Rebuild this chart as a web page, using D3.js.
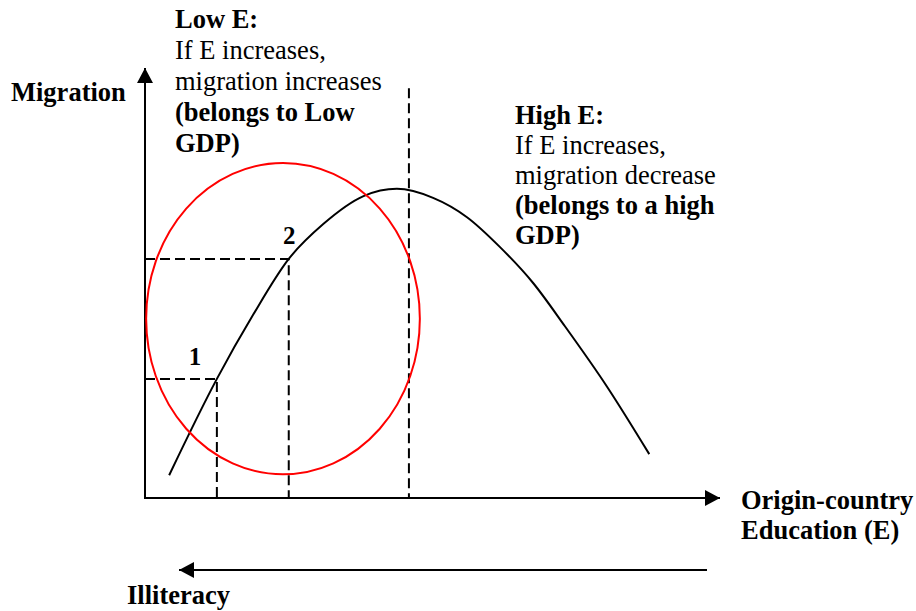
<!DOCTYPE html>
<html>
<head>
<meta charset="utf-8">
<script src="https://cdn.jsdelivr.net/npm/d3@7"></script>
<style>
  body { margin: 0; background: #fff; }
  text { font-family: "Liberation Serif", "Times New Roman", Times, serif; fill: #000; }
  .bold { font-weight: bold; }
</style>
</head>
<body>
<div id="chart"></div>
<script>
// curve: migration as a function of origin-country education (0-100 units)
const curveE = [4.2, 12.5, 18.8, 25.0, 31.0, 38.0, 43.8, 50.1, 56.0, 61.7, 67.5, 73.0, 80.3, 87.7];
const curveM = [5.3, 27.7, 42.6, 55.6, 63.7, 70.2, 71.9, 69.8, 65.3, 58.4, 50.0, 40.0, 26.0, 10.2];

// marked points 1 and 2 on the curve, and where their numbers sit
const pointLabels = ['1', '2'];
const pointE = [12.5, 25.0];
const pointM = [27.7, 55.6];
const numE = [7.6, 24.0];
const numM = [30.9, 59.1];

// turning point line and the red "low E" ellipse
const peakE = 45.9, peakTop = 95.3;
const ellipseE = 24.0, ellipseM = 41.7, ellipseRE = 23.8, ellipseRM = 36.2;

const lowText = [['Low E:', true], ['If E increases,', false], ['migration increases', false],
                 ['(belongs to Low', true], ['GDP)', true]];
const highText = [['High E:', true], ['If E increases,', false], ['migration decrease', false],
                  ['(belongs to a high', true], ['GDP)', true]];

const width = 916, height = 611;
const fontSize = '26.5px';
const svg = d3.select('#chart').append('svg').attr('width', width).attr('height', height);

const x = d3.scaleLinear().domain([0, 100]).range([145, 720]);
const y = d3.scaleLinear().domain([0, 100]).range([498, 68]);

const defs = svg.append('defs');
defs.append('marker')
    .attr('id', 'arrow')
    .attr('viewBox', '0 0 15 16')
    .attr('refX', 15).attr('refY', 8)
    .attr('markerWidth', 15).attr('markerHeight', 16)
    .attr('markerUnits', 'userSpaceOnUse')
    .attr('orient', 'auto')
    .append('path').attr('d', 'M0,0 L15,8 L0,16 Z').attr('fill', '#000');

// dashed guides
const dash = '10,5';
pointE.forEach(function(e, i) {
    svg.append('polyline')
        .attr('points', [[x(0), y(pointM[i])], [x(e), y(pointM[i])], [x(e), y(0)]].join(' '))
        .attr('fill', 'none').attr('stroke', '#000').attr('stroke-width', 2)
        .attr('stroke-dasharray', dash);
});
svg.append('line')
    .attr('x1', x(peakE)).attr('x2', x(peakE))
    .attr('y1', y(peakTop)).attr('y2', y(0))
    .attr('stroke', '#000').attr('stroke-width', 2).attr('stroke-dasharray', dash);

// axes
svg.append('line')
    .attr('x1', x(0)).attr('y1', y(0)).attr('x2', x(0)).attr('y2', y(100))
    .attr('stroke', '#000').attr('stroke-width', 2).attr('marker-end', 'url(#arrow)');
svg.append('line')
    .attr('x1', x(0) - 1).attr('y1', y(0)).attr('x2', x(100)).attr('y2', y(0))
    .attr('stroke', '#000').attr('stroke-width', 2).attr('marker-end', 'url(#arrow)');

// curve
const pts = curveE.map(function(e, i) { return [e, curveM[i]]; });
const line = d3.line()
    .x(function(d) { return x(d[0]); })
    .y(function(d) { return y(d[1]); })
    .curve(d3.curveMonotoneX);
svg.append('path')
    .attr('d', line(pts))
    .attr('fill', 'none').attr('stroke', '#000').attr('stroke-width', 2);

// red ellipse
svg.append('ellipse')
    .attr('cx', x(ellipseE)).attr('cy', y(ellipseM))
    .attr('rx', x(ellipseRE) - x(0)).attr('ry', y(0) - y(ellipseRM))
    .attr('fill', 'none').attr('stroke', '#f00').attr('stroke-width', 2);

// point numbers
svg.selectAll('.num')
    .data(pointLabels)
    .enter()
    .append('text')
    .attr('class', 'num bold')
    .attr('x', function(d, i) { return x(numE[i]); })
    .attr('y', function(d, i) { return y(numM[i]); })
    .style('font-size', '25px')
    .text(function(d) { return d; });

// illiteracy arrow
svg.append('line')
    .attr('x1', 707).attr('y1', 570).attr('x2', 179).attr('y2', 570)
    .attr('stroke', '#000').attr('stroke-width', 2).attr('marker-end', 'url(#arrow)');

function block(lines, x0, y0, step) {
    lines.forEach(function(l, i) {
        svg.append('text')
            .attr('class', l[1] ? 'bold' : null)
            .attr('x', x0).attr('y', y0 + i * step)
            .style('font-size', fontSize)
            .text(l[0]);
    });
}
block(lowText, 175, 28, 31);
block(highText, 515, 124, 30);

function label(t, x0, y0) {
    svg.append('text').attr('class', 'bold')
        .attr('x', x0).attr('y', y0)
        .style('font-size', fontSize)
        .text(t);
}
label('Migration', 11, 101);
label('Origin-country', 741, 509);
label('Education (E)', 741, 539);
label('Illiteracy', 127, 604);
</script>
</body>
</html>
